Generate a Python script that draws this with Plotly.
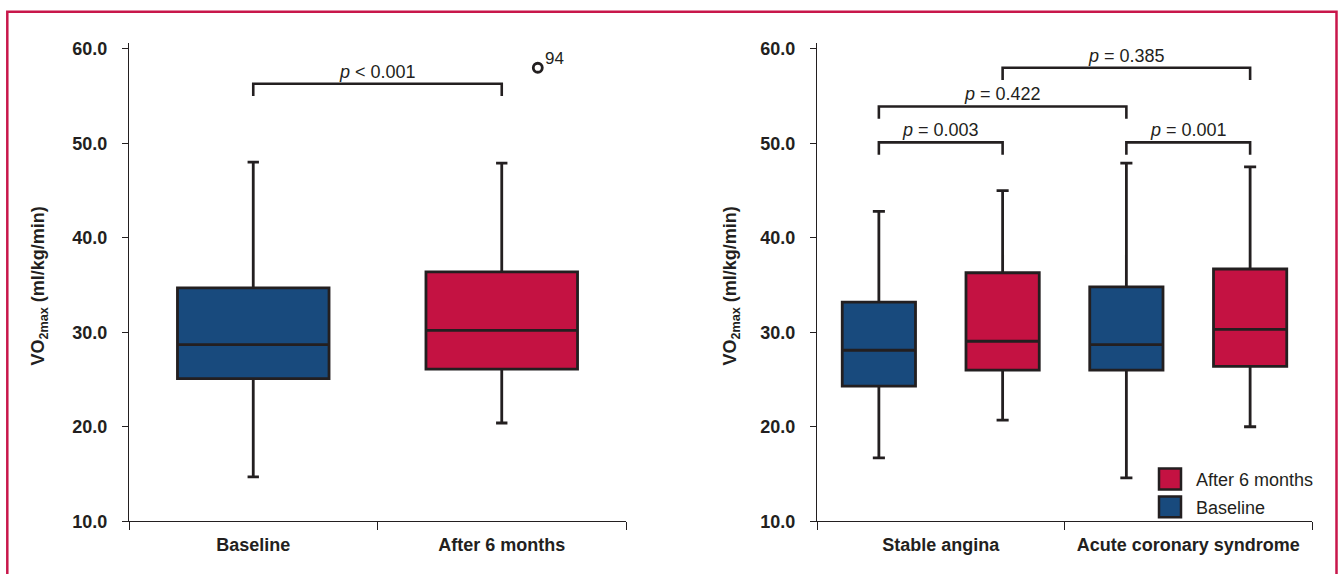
import plotly.graph_objects as go

# ---------------- data ----------------
left_categories = ["Baseline", "After 6 months"]
left_baseline = dict(low=14.7, q1=25.1, med=28.7, q3=34.7, high=48.0)
left_after = dict(low=20.4, q1=26.1, med=30.2, q3=36.4, high=47.9)
left_outlier_value = [58.0]
left_outlier_label = ["94"]

right_categories = ["Stable angina", "Acute coronary syndrome"]
right_baseline_low = [16.7, 14.6]
right_baseline_q1 = [24.3, 26.0]
right_baseline_med = [28.1, 28.7]
right_baseline_q3 = [33.2, 34.8]
right_baseline_high = [42.8, 47.9]
right_after_low = [20.7, 20.0]
right_after_q1 = [26.0, 26.4]
right_after_med = [29.05, 30.3]
right_after_q3 = [36.3, 36.7]
right_after_high = [45.0, 47.5]

y_ticks = [10, 20, 30, 40, 50, 60]

# comparisons: (x_from, x_to, bracket level, label)
left_comparisons = [(0.0, 1.0, 56.3, "<i>p</i> &lt; 0.001")]
right_comparisons = [
    (-0.25, 0.25, 50.1, "<i>p</i> = 0.003"),
    (0.75, 1.25, 50.1, "<i>p</i> = 0.001"),
    (-0.25, 0.75, 53.9, "<i>p</i> = 0.422"),
    (0.25, 1.25, 58.0, "<i>p</i> = 0.385"),
]

# ---------------- style ----------------
W, H = 1338, 574
BLUE = "#184a7d"
RED = "#c41242"
DARK = "#231f20"
FRAME = "#c8174b"
FONT = "Liberation Sans, Arial, sans-serif"

# vertical calibration of the photographed page
Y_A, Y_B = 2.9, 0.981


def px_x(p):
    return p / W


def px_y(p):
    return 1 - ((p - Y_A) / Y_B) / H


fig = go.Figure()

# left panel boxes
for i, (stats, color, name) in enumerate(
    [(left_baseline, BLUE, "Baseline"), (left_after, RED, "After 6 months")]
):
    fig.add_trace(go.Box(
        x=[i], q1=[stats["q1"]], median=[stats["med"]], q3=[stats["q3"]],
        lowerfence=[stats["low"]], upperfence=[stats["high"]],
        width=0.61, whiskerwidth=0.075,
        fillcolor=color, line=dict(color=DARK, width=2.8),
        name=name, showlegend=False, boxpoints=False,
        xaxis="x", yaxis="y", hoverinfo="skip",
    ))

# outlier
OUT_X = 1 + 0.145
fig.add_trace(go.Scatter(
    x=[OUT_X] * len(left_outlier_value), y=left_outlier_value,
    mode="markers",
    marker=dict(symbol="circle-open", size=9, line=dict(color=DARK, width=2.8), color=DARK),
    showlegend=False, xaxis="x", yaxis="y", hoverinfo="skip",
))

# right panel boxes
n = len(right_categories)
fig.add_trace(go.Box(
    x=[i - 0.25 for i in range(n)], q1=right_baseline_q1, median=right_baseline_med,
    q3=right_baseline_q3, lowerfence=right_baseline_low, upperfence=right_baseline_high,
    width=0.296, whiskerwidth=0.165, fillcolor=BLUE, line=dict(color=DARK, width=2.8),
    name="Baseline", showlegend=False, boxpoints=False, xaxis="x2", yaxis="y2",
    hoverinfo="skip",
))
fig.add_trace(go.Box(
    x=[i + 0.25 for i in range(n)], q1=right_after_q1, median=right_after_med,
    q3=right_after_q3, lowerfence=right_after_low, upperfence=right_after_high,
    width=0.296, whiskerwidth=0.165, fillcolor=RED, line=dict(color=DARK, width=2.8),
    name="After 6 months", showlegend=False, boxpoints=False, xaxis="x2", yaxis="y2",
    hoverinfo="skip",
))

shapes = []
annotations = []

for v, lab in zip(left_outlier_value, left_outlier_label):
    annotations.append(dict(
        x=OUT_X, y=v, xref="x", yref="y", text=lab, showarrow=False,
        xanchor="left", yanchor="middle", xshift=5, yshift=9,
        font=dict(family=FONT, size=17, color=DARK),
    ))


def add_brackets(comps, xref, yref):
    for x0, x1, lvl, label in comps:
        drop = 1.3
        shapes.append(dict(
            type="path", xref=xref, yref=yref,
            path=f"M {x0},{lvl - drop} L {x0},{lvl} L {x1},{lvl} L {x1},{lvl - drop}",
            line=dict(color=DARK, width=2.6),
        ))
        annotations.append(dict(
            x=(x0 + x1) / 2, y=lvl, xref=xref, yref=yref, text=label,
            showarrow=False, yanchor="bottom", xanchor="center", yshift=0,
            font=dict(family=FONT, size=18, color=DARK),
        ))


add_brackets(left_comparisons, "x", "y")
add_brackets(right_comparisons, "x2", "y2")

# y titles
for xp in (40, 732):
    annotations.append(dict(
        x=px_x(xp), y=px_y(287), xref="paper", yref="paper",
        text="VO<sub>2max</sub> (ml/kg/min)", textangle=-90, showarrow=False,
        xanchor="center", yanchor="middle",
        font=dict(family=FONT, size=18, color=DARK, weight="bold"),
    ))

# custom legend
legend_items = [("After 6 months", RED, 470), ("Baseline", BLUE, 498)]
for name, color, top in legend_items:
    shapes.append(dict(
        type="rect", xref="paper", yref="paper",
        x0=px_x(1159), x1=px_x(1181), y0=px_y(top + 21), y1=px_y(top),
        fillcolor=color, line=dict(color=DARK, width=2.5),
    ))
    annotations.append(dict(
        x=px_x(1194), y=px_y(top + 12), xref="paper", yref="paper",
        text=name, showarrow=False, xanchor="left", yanchor="middle",
        font=dict(family=FONT, size=18, color=DARK),
    ))

# frame (open at the bottom, cropped)
shapes.append(dict(
    type="path", xref="paper", yref="paper",
    path=(f"M {px_x(7.3)},-0.2 L {px_x(7.3)},{px_y(10.8)} "
          f"L {px_x(1336.5)},{px_y(10.8)} L {px_x(1336.5)},-0.2"),
    line=dict(color=FRAME, width=2.5),
))

ydom = [px_y(523), px_y(42.3)]
yaxis_common = dict(
    range=[10, 60.6], tickvals=y_ticks, tickformat=".1f",
    showline=True, linecolor=DARK, linewidth=1.2, ticks="outside", ticklen=6,
    tickwidth=1.2, tickcolor=DARK, showgrid=False, zeroline=False,
    tickfont=dict(family=FONT, size=18, color=DARK, weight="bold"),
    ticklabelstandoff=11, domain=ydom,
)
xaxis_common = dict(
    range=[-0.5, 1.5], tickmode="array", tickvals=[0, 1], ticks="",
    showline=True, linecolor=DARK, linewidth=1.2, showgrid=False, zeroline=False,
    tickfont=dict(family=FONT, size=18, color=DARK, weight="bold"),
    minor=dict(tickmode="array", tickvals=[-0.5, 0.5, 1.5], ticks="outside",
               ticklen=8, tickwidth=1.2, tickcolor=DARK, showgrid=False),
    ticklabelstandoff=7,
)

fig.update_layout(
    width=W, height=H, autosize=False,
    margin=dict(l=0, r=0, t=0, b=0),
    paper_bgcolor="white", plot_bgcolor="rgba(0,0,0,0)",
    font=dict(family=FONT, color=DARK),
    xaxis=dict(domain=[px_x(129), px_x(626)], ticktext=left_categories, anchor="y", **xaxis_common),
    yaxis=dict(anchor="x", **yaxis_common),
    xaxis2=dict(domain=[px_x(817), px_x(1312)], ticktext=right_categories, anchor="y2", **xaxis_common),
    yaxis2=dict(anchor="x2", **yaxis_common),
    shapes=shapes, annotations=annotations, showlegend=False,
)

# remove the default page margin so the figure fills the window exactly
fig.write_html("out.html", config={"displayModeBar": False},
               post_script="document.body.style.margin='0';")
